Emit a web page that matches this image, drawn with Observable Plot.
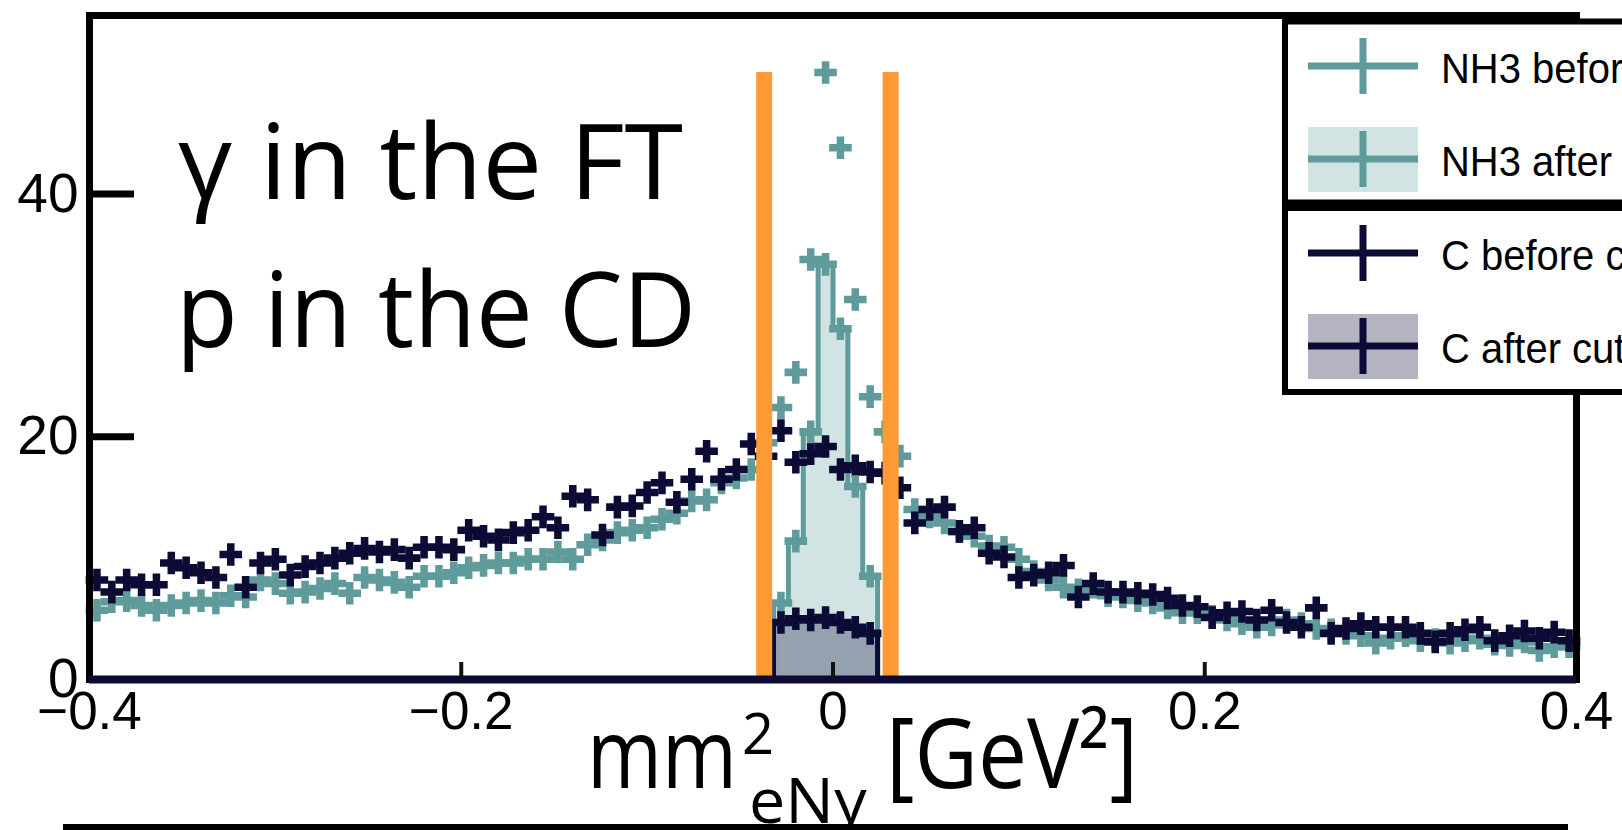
<!DOCTYPE html>
<html>
<head>
<meta charset="utf-8">
<script src="https://cdn.jsdelivr.net/npm/d3@7"></script>
<script src="https://cdn.jsdelivr.net/npm/@observablehq/plot@0.6"></script>
<style>
  html, body { margin: 0; padding: 0; background: #fff; overflow: hidden; }
  #chart { position: relative; width: 1622px; height: 830px; }
</style>
</head>
<body>
<div id="chart"></div>
<script>
// Missing-mass-squared histograms, 100 bins of 0.008 GeV² from -0.4 to 0.4
const binStart = -0.4;
const binWidth = 0.008;

// NH3 target, before exclusivity cuts (counts per bin)
const nh3Before = [
  5.7, 6.4, 6.5, 6.1, 5.7, 6.1, 6.3, 6.5, 6.3, 6.9,
  6.8, 8.2, 7.9, 7.1, 7.2, 7.5, 7.9, 7.1, 8.4, 8.2,
  8.0, 7.6, 8.5, 8.5, 8.8, 9.2, 9.4, 9.6, 9.6, 9.9,
  9.9, 10.5, 9.9, 11.1, 11.5, 12.1, 12.3, 12.5, 13.2, 13.7,
  14.7, 14.8, 16.2, 16.6, 17.3, 19.5, 22.4, 25.3, 34.6, 50.0,
  43.8, 31.3, 23.3, 20.4, 18.4, 14.0, 13.4, 12.9, 12.2, 11.8,
  11.0, 10.9, 9.9, 8.9, 8.2, 7.6, 7.4, 7.6, 6.9, 6.8,
  6.5, 6.3, 5.9, 5.5, 5.5, 5.2, 4.9, 4.6, 4.3, 4.5,
  4.9, 4.6, 4.2, 4.1, 3.8, 3.6, 3.0, 3.4, 3.6, 3.2,
  3.3, 3.0, 3.2, 3.4, 2.9, 2.8, 3.1, 2.4, 2.7, 2.7
];

// Carbon target, before exclusivity cuts
const cBefore = [
  8.2, 7.2, 8.2, 7.8, 7.8, 9.6, 9.2, 8.8, 8.4, 10.3,
  7.6, 9.6, 9.9, 8.6, 9.3, 9.6, 10.0, 10.4, 10.8, 10.5,
  10.7, 10.0, 10.9, 10.9, 10.7, 12.3, 11.8, 11.5, 12.1, 12.3,
  13.4, 12.5, 15.1, 14.8, 11.9, 14.2, 14.3, 15.4, 16.2, 14.6,
  16.5, 18.8, 16.5, 17.3, 19.4, 18.4, 20.5, 17.9, 18.6, 19.2,
  17.3, 17.6, 17.1, 17.0, 15.8, 12.9, 14.0, 14.2, 12.2, 12.5,
  10.4, 10.1, 8.4, 8.6, 8.8, 9.4, 6.8, 7.9, 7.2, 7.2,
  7.1, 7.0, 6.7, 6.1, 6.0, 5.1, 5.5, 5.6, 4.9, 5.7,
  4.7, 4.3, 5.9, 3.8, 4.2, 4.6, 4.3, 4.3, 4.3, 3.8,
  3.1, 3.8, 4.1, 4.3, 3.2, 3.6, 4.0, 3.4, 3.9, 3.2
];

// After cuts only the central bins survive (first surviving bin index)
const afterFirstBin = 46;
const nh3After = [6.3, 11.4, 20.4, 34.2, 28.9, 15.9, 8.5];
const cAfter   = [4.7, 5.0, 4.9, 5.1, 4.7, 4.3, 3.8];

// Exclusivity window drawn as orange bars
const cutEdges = [-0.037, 0.031];
const cutTop = 50;

const xTicks = [-0.4, -0.2, 0, 0.2, 0.4];
const xMinorTicks = [-0.2, 0, 0.2];
const yTicks = [0, 20, 40];
const yInnerTicks = [20, 40];

const legendLabels = ["NH3 before cuts", "NH3 after cuts", "C before cuts", "C after cuts"];
const noteLines = ["γ in the FT", "p in the CD"];

const teal = "#5f9b9b";
const navy = "#0b0b36";
const orange = "#fd9a35";

const W = 1622, H = 830;
const mL = 89, mR = 46, mT = 15, mB = 151;
const innerW = W - mL - mR, innerH = H - mT - mB;

const binX = (i) => binStart + (i + 0.5) * binWidth;
const toPoints = (vals, first = 0) => vals.map((v, i) => ({x: binX(first + i), y: v}));

function stepOutline(vals, first) {
  const pts = [];
  vals.forEach((v, i) => {
    const x1 = binStart + (first + i) * binWidth;
    if (i === 0) pts.push({x: x1, y: 0});
    pts.push({x: x1, y: v}, {x: x1 + binWidth, y: v});
  });
  pts.push({x: pts[pts.length - 1].x, y: 0});
  return pts;
}

const nh3BeforePts = toPoints(nh3Before);
const cBeforePts = toPoints(cBefore);
const nh3AfterPts = toPoints(nh3After, afterFirstBin);
const cAfterPts = toPoints(cAfter, afterFirstBin);
const nh3Step = stepOutline(nh3After, afterFirstBin);
const cStep = stepOutline(cAfter, afterFirstBin);

const fmt = (d) => d === 0 ? "0" : d3.format(".1f")(d);
const crossR = 9.5;

const plot = Plot.plot({
  width: W,
  height: H,
  marginLeft: mL,
  marginRight: mR,
  marginTop: mT,
  marginBottom: mB,
  style: {fontFamily: "Liberation Sans, Arial, sans-serif", background: "#fff", color: "#000", overflow: "visible"},
  x: {domain: [-0.4, 0.4]},
  y: {domain: [0, 54.7]},
  marks: [
    Plot.areaY(nh3Step, {x: "x", y: "y", fill: teal, fillOpacity: 0.28}),
    Plot.areaY(cStep, {x: "x", y: "y", fill: navy, fillOpacity: 0.3}),
    Plot.line(nh3Step, {x: "x", y: "y", stroke: teal, strokeWidth: 5}),
    Plot.line(cStep, {x: "x", y: "y", stroke: navy, strokeWidth: 5}),
    Plot.dot(nh3BeforePts, {x: "x", y: "y", symbol: "cross", r: crossR, fill: teal, stroke: null}),
    Plot.dot(cBeforePts, {x: "x", y: "y", symbol: "cross", r: crossR, fill: navy, stroke: null}),
    Plot.dot(nh3AfterPts, {x: "x", y: "y", symbol: "cross", r: crossR, fill: teal, stroke: null}),
    Plot.dot(cAfterPts, {x: "x", y: "y", symbol: "cross", r: crossR, fill: navy, stroke: null}),
    Plot.ruleX(cutEdges, {y1: 0, y2: cutTop, stroke: orange, strokeWidth: 16}),
    Plot.frame({stroke: "#000", strokeWidth: 7}),
    Plot.ruleY([0], {stroke: navy, strokeWidth: 8}),
    Plot.tickY(yInnerTicks, {stroke: "#000", strokeWidth: 7, insetRight: innerW - 45}),
    Plot.tickX(xMinorTicks, {stroke: "#111", strokeWidth: 4, insetTop: innerH - 17}),
    Plot.axisY(yTicks, {tickSize: 0, tickPadding: 11, fontSize: 55, label: null}),
    Plot.axisX(xTicks, {tickSize: 0, tickPadding: 12, fontSize: 53, tickFormat: fmt, label: null})
  ]
});

const svg = d3.select(plot);

// Annotation in the upper-left corner
const note = svg.append("g")
  .attr("font-family", "Open Sans, Noto Sans, sans-serif")
  .attr("font-size", 104)
  .attr("text-anchor", "start")
  .attr("fill", "#000");
note.append("text").attr("x", 178).attr("y", 199)
  .attr("textLength", 505).attr("lengthAdjust", "spacingAndGlyphs").text(noteLines[0]);
note.append("text").attr("x", 176).attr("y", 347)
  .attr("textLength", 520).attr("lengthAdjust", "spacingAndGlyphs").text(noteLines[1]);

// x-axis title: mm²_{eNγ} [GeV²]
const xt = svg.append("g")
  .attr("font-family", "Open Sans, Noto Sans, sans-serif")
  .attr("text-anchor", "start")
  .attr("fill", "#000");
xt.append("text").attr("x", 587).attr("y", 788).attr("font-size", 97)
  .attr("textLength", 150).attr("lengthAdjust", "spacingAndGlyphs").text("mm");
xt.append("text").attr("x", 742).attr("y", 754).attr("font-size", 56).text("2");
xt.append("text").attr("x", 749).attr("y", 823).attr("font-size", 62)
  .attr("textLength", 118).attr("lengthAdjust", "spacingAndGlyphs").text("eNγ");
xt.append("text").attr("x", 886).attr("y", 788).attr("font-size", 97)
  .attr("textLength", 252).attr("lengthAdjust", "spacingAndGlyphs").text("[GeV²]");

// Top edge of the panel below
svg.append("line")
  .attr("x1", 63).attr("x2", 1568).attr("y1", 827).attr("y2", 827)
  .attr("stroke", "#000").attr("stroke-width", 6);

// Legend: two boxed groups, NH3 and C
const lg = svg.append("g").attr("text-anchor", "start");
lg.append("rect").attr("x", 1285).attr("y", 21.5).attr("width", 420).attr("height", 181)
  .attr("fill", "#fff").attr("stroke", "#000").attr("stroke-width", 6);
lg.append("rect").attr("x", 1285).attr("y", 208).attr("width", 420).attr("height", 184)
  .attr("fill", "#fff").attr("stroke", "#000").attr("stroke-width", 6);

const rows = [
  {y: 66, color: teal, fill: null},
  {y: 159, color: teal, fill: teal, fillOpacity: 0.28},
  {y: 253, color: navy, fill: null},
  {y: 346, color: navy, fill: navy, fillOpacity: 0.31}
];
rows.forEach((r, i) => {
  if (r.fill) {
    lg.append("rect").attr("x", 1308).attr("y", r.y - 32).attr("width", 110).attr("height", 65)
      .attr("fill", r.fill).attr("fill-opacity", r.fillOpacity);
  }
  lg.append("line").attr("x1", 1308).attr("x2", 1418).attr("y1", r.y).attr("y2", r.y)
    .attr("stroke", r.color).attr("stroke-width", 7);
  lg.append("line").attr("x1", 1363).attr("x2", 1363).attr("y1", r.y - 28).attr("y2", r.y + 28)
    .attr("stroke", r.color).attr("stroke-width", 7);
  lg.append("text")
    .attr("transform", `translate(1441,${r.y + 17}) scale(0.93,1)`)
    .attr("font-family", "Liberation Sans, Arial, sans-serif")
    .attr("font-size", 43)
    .attr("fill", "#000")
    .text(legendLabels[i]);
});

document.getElementById("chart").appendChild(plot);
</script>
</body>
</html>
